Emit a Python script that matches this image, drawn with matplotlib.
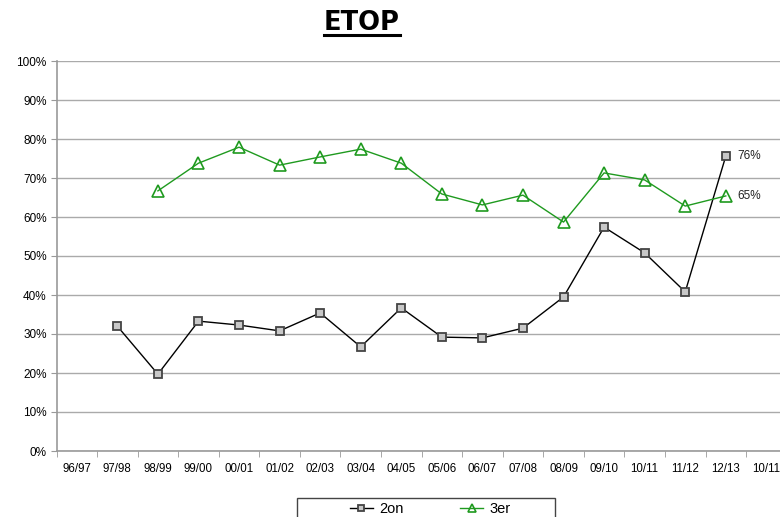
import matplotlib.pyplot as plt
from matplotlib.lines import Line2D
from matplotlib.patches import Rectangle

plt.rcParams['font.family'] = ['Liberation Sans', 'DejaVu Sans']

seasons = ['96/97', '97/98', '98/99', '99/00', '00/01', '01/02', '02/03', '03/04',
           '04/05', '05/06', '06/07', '07/08', '08/09', '09/10', '10/11', '11/12',
           '12/13', '10/11']

# 2on starts at 97/98, 3er at 98/99
segon = [32.0, 19.7, 33.3, 32.3, 30.8, 35.4, 26.7, 36.7, 29.2, 29.0, 31.5,
         39.5, 57.4, 50.8, 40.8, 75.6]
tercer = [66.7, 73.8, 77.9, 73.3, 75.4, 77.4, 73.8, 65.9, 63.1, 65.6, 58.7,
          71.3, 69.5, 62.8, 65.4]

W, H = 780, 517
fig = plt.figure(figsize=(W / 100, H / 100), dpi=100)
ax = fig.add_axes([56.5 / W, (H - 451) / H, 1 - 56.5 / W, (451 - 61) / H])

x2 = list(range(1, 1 + len(segon)))
x3 = list(range(2, 2 + len(tercer)))

green = '#1f9a1f'
ax.plot(x2, segon, color='black', lw=1, marker='s', ms=5.5,
        mfc='#c8c8c8', mec='#444444', mew=1.3, label='2on', zorder=3)
ax.plot(x3, tercer, color=green, lw=1, marker='^', ms=8,
        mfc='none', mec=green, mew=1.2, label='3er', zorder=3)

ax.annotate('%d%%' % round(segon[-1]), (x2[-1], segon[-1]), xytext=(8, 0),
            textcoords='offset points', va='center', fontsize=8.5, color='#222222')
ax.annotate('%d%%' % round(tercer[-1]), (x3[-1], tercer[-1]), xytext=(8, 0),
            textcoords='offset points', va='center', fontsize=8.5, color='#222222')

step = (726 - 77) / 16
right = (W - 56.5) / step - 0.5
ax.set_yticks(range(0, 101, 10))
ax.set_yticklabels(['%d%%' % v for v in range(0, 101, 10)], fontsize=8.5)
ax.set_xticks(range(len(seasons)))
ax.set_xticklabels(seasons, fontsize=8.3)
ax.set_xticks([i - 0.5 for i in range(len(seasons))], minor=True)
ax.set_xlim(-0.5, right)
ax.set_ylim(0, 100)
ax.tick_params(axis='x', which='major', length=0, pad=9)
ax.tick_params(axis='x', which='minor', length=4, color='#999999')
ax.tick_params(axis='y', length=4, color='#999999', pad=3)

ax.grid(axis='y', color='#aaaaaa', lw=1)
ax.set_axisbelow(True)
for s in ['top', 'right']:
    ax.spines[s].set_visible(False)
for s in ['left', 'bottom']:
    ax.spines[s].set_color('#999999')
    ax.spines[s].set_linewidth(1.2)

title = fig.text(362 / W, 1 - 23 / H, 'ETOP', ha='center', va='center',
                 fontsize=18.5, fontweight='bold', family='DejaVu Sans')
fig.canvas.draw()
bb = title.get_window_extent().transformed(fig.transFigure.inverted())
fig.add_artist(Line2D([bb.x0, bb.x1], [bb.y0 + 0.001, bb.y0 + 0.001],
                      color='black', lw=2.2, transform=fig.transFigure))

# legend box (bottom cut by the figure edge)
fig.add_artist(Rectangle((297 / W, 1 - 540 / H), (555 - 297) / W, 42 / H,
                         transform=fig.transFigure, fill=False,
                         edgecolor='#444444', lw=1))
fig.legend(loc='center', bbox_to_anchor=(430 / W, 1 - 509 / H), ncol=2,
           frameon=False, fontsize=10.5, handlelength=1.6, handletextpad=0.4,
           columnspacing=3.9, markerscale=0.8)

fig.savefig('out.png', dpi=100)
